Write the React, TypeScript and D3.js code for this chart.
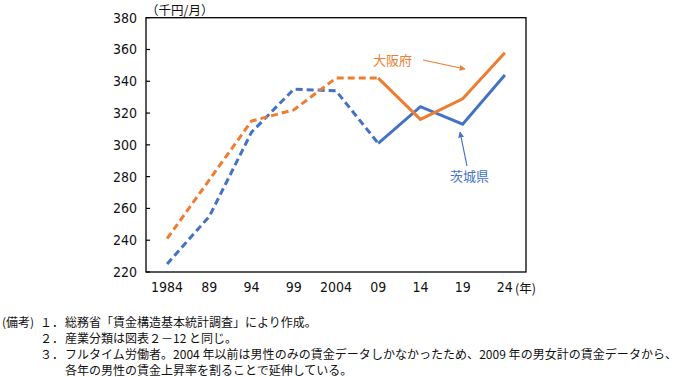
import React from 'react';
import * as d3 from 'd3';

const years = ['1984', '89', '94', '99', '2004', '09', '14', '19', '24'];
const osaka = [241, 278, 315, 322, 342, 342, 316, 329, 358];
const ibaraki = [225, 255, 308, 335, 334, 301, 324, 313, 344];
const yTicks = [220, 240, 260, 280, 300, 320, 340, 360, 380];
// index of the last estimated (dashed) point: up to 2009
const dashedUntil = 5;

const notes = [
  { num: '１．', text: '総務省「賃金構造基本統計調査」により作成。', len: 0 },
  { num: '２．', text: '産業分類は図表２－12 と同じ。', len: 0 },
  { num: '３．', text: 'フルタイム労働者。2004 年以前は男性のみの賃金データしかなかったため、2009 年の男女計の賃金データから、', len: 612 },
  { num: '', text: '各年の男性の賃金上昇率を割ることで延伸している。', len: 0 },
];

const ORANGE = '#ED7D31';
const BLUE = '#4472C4';
const INK = '#111';
const NUM_FONT = "'Liberation Sans Narrow', 'DejaVu Sans Condensed', sans-serif";
const JP_FONT = "'Noto Sans CJK JP', 'Noto Sans', sans-serif";

const width = 680;
const height = 377;
const left = 146;
const right = 526;
const top = 17.7;
const bottom = 272;

export default function App() {
  const x = d3.scalePoint<string>().domain(years).range([left, right]).padding(0.5);
  const y = d3.scaleLinear().domain([220, 380]).range([bottom, top]);

  // split each series into the dashed (estimated) part and the solid part
  const segments = (vals: number[]) => {
    const pts = vals.map((v, i) => ({ v, i }));
    const l = d3
      .line<{ v: number; i: number }>()
      .x((d) => x(years[d.i]) as number)
      .y((d) => y(d.v));
    return {
      dashed: l(pts.slice(0, dashedUntil + 1)) || '',
      solid: l(pts.slice(dashedUntil)) || '',
    };
  };

  const o = segments(osaka);
  const b = segments(ibaraki);

  return (
    <svg
      width={width}
      height={height}
      style={{ position: 'absolute', left: 0, top: 0, background: '#fff' }}
    >
      <defs>
        <marker id="arrO" viewBox="0 0 10 10" refX="9" refY="5" markerWidth="5" markerHeight="5" orient="auto">
          <path d="M0,0 L10,5 L0,10 z" fill={ORANGE} />
        </marker>
        <marker id="arrB" viewBox="0 0 10 10" refX="9" refY="5" markerWidth="5" markerHeight="5" orient="auto">
          <path d="M0,0 L10,5 L0,10 z" fill={BLUE} />
        </marker>
      </defs>

      {/* frame */}
      <rect x={left} y={top} width={right - left} height={bottom - top} fill="none" stroke="#000" strokeWidth={1.3} />

      {/* y ticks */}
      {yTicks.map((t) => (
        <g key={t}>
          <line x1={left} x2={left + 4} y1={y(t)} y2={y(t)} stroke="#000" strokeWidth={1.2} />
          <text
            x={137}
            y={y(t)}
            textAnchor="end"
            dominantBaseline="central"
            fontFamily={NUM_FONT}
            fontSize={14}
            fill={INK}
          >
            {t}
          </text>
        </g>
      ))}

      {/* x labels */}
      {years.map((yr) => (
        <text
          key={yr}
          x={x(yr) as number}
          y={287}
          textAnchor="middle"
          dominantBaseline="central"
          fontFamily={NUM_FONT}
          fontSize={14}
          fill={INK}
        >
          {yr}
        </text>
      ))}
      <text x={515} y={287} dominantBaseline="central" fontFamily={JP_FONT} fontSize={12.5} fill={INK}>
        (年)
      </text>
      <text x={146} y={9} dominantBaseline="central" fontFamily={JP_FONT} fontSize={12.5} fill={INK}>
        （千円/月）
      </text>

      {/* lines */}
      <path d={b.dashed} fill="none" stroke={BLUE} strokeWidth={3} strokeDasharray="7,4" />
      <path d={b.solid} fill="none" stroke={BLUE} strokeWidth={3} />
      <path d={o.dashed} fill="none" stroke={ORANGE} strokeWidth={3} strokeDasharray="7,4" />
      <path d={o.solid} fill="none" stroke={ORANGE} strokeWidth={3} />

      {/* annotations */}
      <text x={373} y={59} dominantBaseline="central" fontFamily={JP_FONT} fontSize={13} fill={ORANGE}>
        大阪府
      </text>
      <line x1={423} y1={60} x2={465} y2={69} stroke={ORANGE} strokeWidth={1.2} markerEnd="url(#arrO)" />
      <text x={450} y={175} dominantBaseline="central" fontFamily={JP_FONT} fontSize={13} fill={BLUE}>
        茨城県
      </text>
      <line x1={467} y1={166} x2={460} y2={132} stroke={BLUE} strokeWidth={1.2} markerEnd="url(#arrB)" />

      {/* notes */}
      <text x={2} y={321} dominantBaseline="central" fontFamily={JP_FONT} fontSize={12} fill={INK}>
        (備考)
      </text>
      {notes.map((n, i) => (
        <g key={i}>
          {n.num && (
            <text x={40} y={321 + i * 16} dominantBaseline="central" fontFamily={JP_FONT} fontSize={12} fill={INK}>
              {n.num}
            </text>
          )}
          <text
            x={65}
            y={321 + i * 16}
            dominantBaseline="central"
            fontFamily={JP_FONT}
            fontSize={12}
            fill={INK}
            {...(n.len ? { textLength: n.len, lengthAdjust: 'spacing' } : {})}
          >
            {n.text}
          </text>
        </g>
      ))}
    </svg>
  );
}
